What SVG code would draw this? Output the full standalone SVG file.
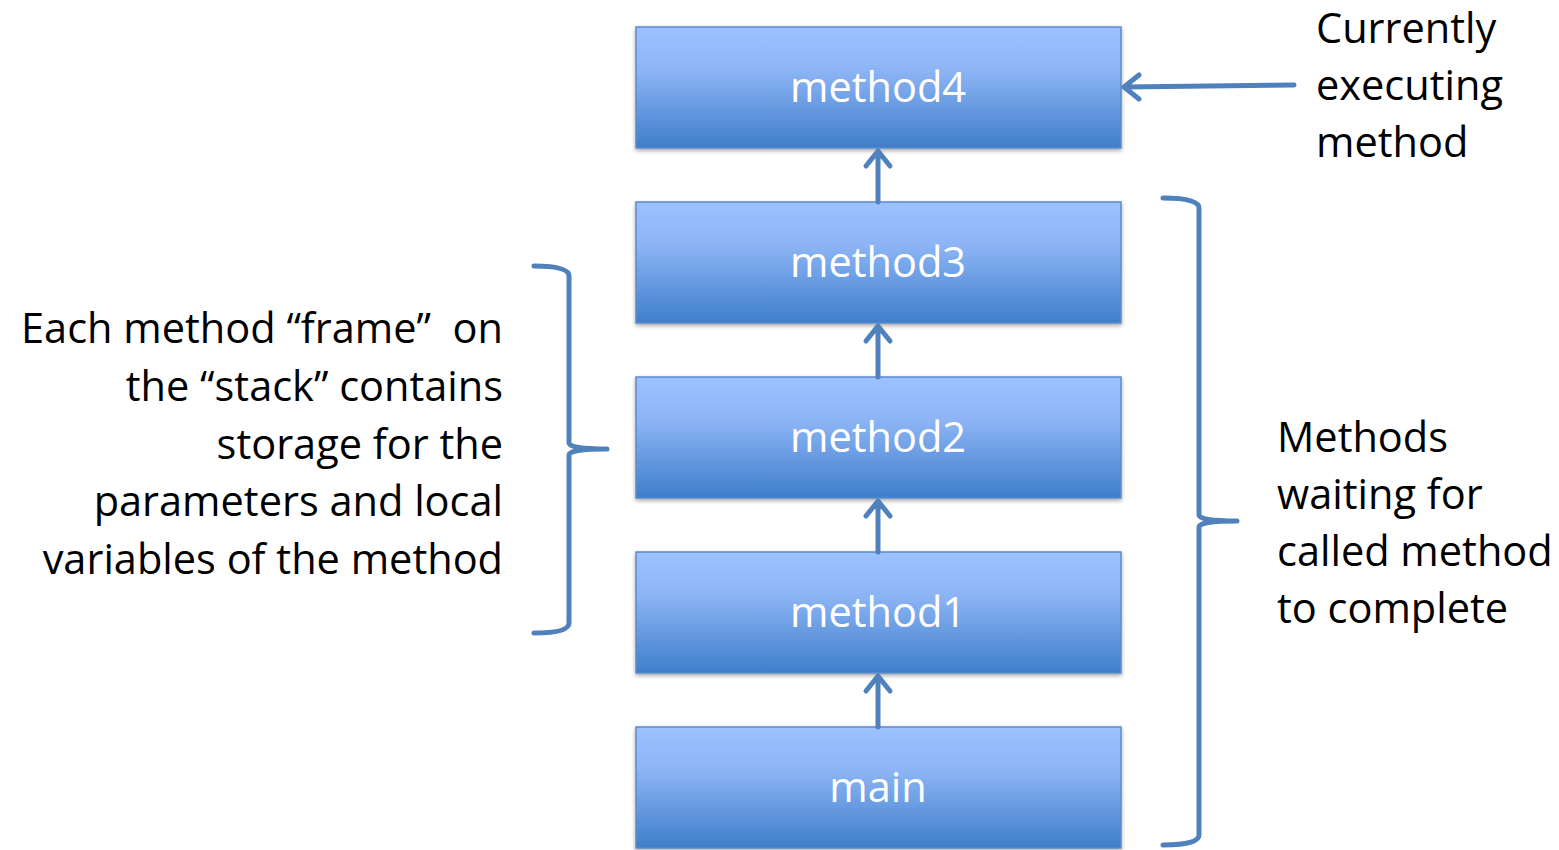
<svg xmlns="http://www.w3.org/2000/svg" width="1559" height="850" viewBox="0 0 1559 850">
<style>
.box{fill:url(#g);stroke:#5B8BCB;stroke-width:1.5;filter:url(#sh)}
.bl{font-family:"Open Sans","Lato",sans-serif;font-size:41.5px;fill:#fff;text-anchor:middle}
.tx{font-family:"Open Sans","Lato",sans-serif;font-size:41.5px;fill:#000;white-space:pre}
.ln{fill:none;stroke:#4F81BD;stroke-width:5;stroke-linecap:round;stroke-linejoin:round}
</style>
<defs>
<linearGradient id="g" x1="0" y1="0" x2="0" y2="1">
<stop offset="0" stop-color="#9CC2FF"/>
<stop offset="0.35" stop-color="#8DB5F5"/>
<stop offset="1" stop-color="#3F7ECB"/>
</linearGradient>
<filter id="sh" x="-5%" y="-10%" width="110%" height="125%">
<feGaussianBlur in="SourceAlpha" stdDeviation="2"/>
<feOffset dx="0" dy="2" result="b"/>
<feComponentTransfer><feFuncA type="linear" slope="0.35"/></feComponentTransfer>
<feMerge><feMergeNode/><feMergeNode in="SourceGraphic"/></feMerge>
</filter>
</defs>
<rect width="1559" height="850" fill="#fff"/>
<g id="method4"><rect class="box" x="636" y="27" width="485" height="121"/><text class="bl" x="878" y="102">method4</text></g>
<g id="method3"><rect class="box" x="636" y="202" width="485" height="121"/><text class="bl" x="878" y="277">method3</text></g>
<g id="method2"><rect class="box" x="636" y="377" width="485" height="121"/><text class="bl" x="878" y="452">method2</text></g>
<g id="method1"><rect class="box" x="636" y="552" width="485" height="121"/><text class="bl" x="878" y="627">method1</text></g>
<g id="main"><rect class="box" x="636" y="727" width="485" height="121"/><text class="bl" x="878" y="802">main</text></g>
<g id="connectors">
<path class="ln" d="M878,202 V151 M866,166 L878,151 L890,166"/>
<path class="ln" d="M878,377 V326 M866,341 L878,326 L890,341"/>
<path class="ln" d="M878,552 V501 M866,516 L878,501 L890,516"/>
<path class="ln" d="M878,727 V676 M866,691 L878,676 L890,691"/>
<path class="ln" d="M1294,85 L1124,87 M1139,75 L1124,87 L1139,99"/>
<path class="ln" d="M534,266 Q569,266 569,276 V443 Q569,449 607,449 Q569,449 569,455 V623 Q569,633 534,633"/>
<path class="ln" d="M1163,198 Q1199,198 1199,208 V515 Q1199,521 1237,521 Q1199,521 1199,527 V835 Q1199,845 1163,845"/>
</g>
<g id="label-left">
<text class="tx" text-anchor="end" x="503" y="343" xml:space="preserve">Each method “frame”  on</text>
<text class="tx" text-anchor="end" x="503" y="401">the “stack” contains</text>
<text class="tx" text-anchor="end" x="503" y="459">storage for the</text>
<text class="tx" text-anchor="end" x="503" y="516">parameters and local</text>
<text class="tx" text-anchor="end" x="503" y="574">variables of the method</text>
</g>
<g id="label-top">
<text class="tx" x="1316" y="43">Currently</text>
<text class="tx" x="1316" y="100">executing</text>
<text class="tx" x="1316" y="157">method</text>
</g>
<g id="label-right">
<text class="tx" x="1277" y="452">Methods</text>
<text class="tx" x="1277" y="509">waiting for</text>
<text class="tx" x="1277" y="566">called method</text>
<text class="tx" x="1277" y="623">to complete</text>
</g>
</svg>
